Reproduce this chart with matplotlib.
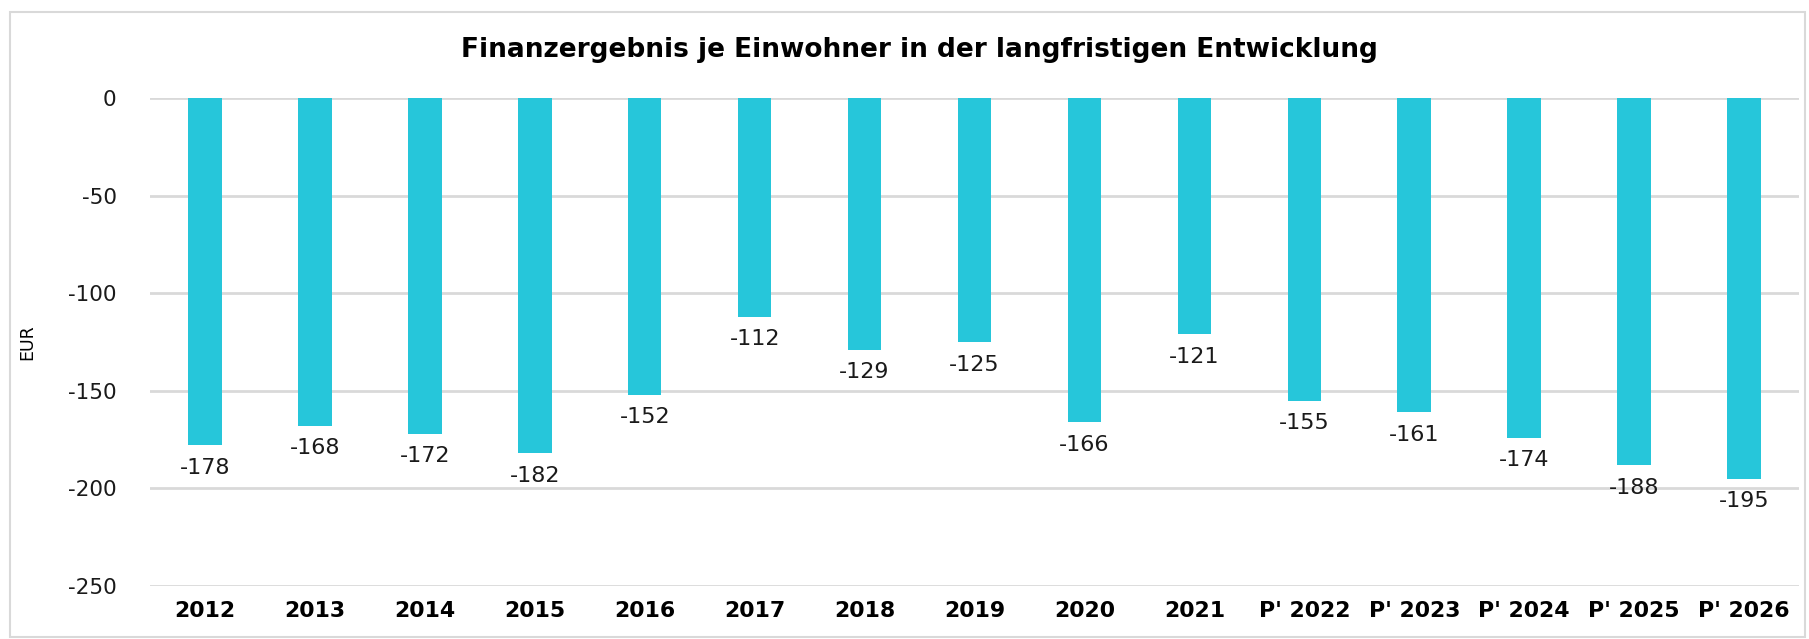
import matplotlib.pyplot as plt
from matplotlib.patches import Rectangle

years = ['2012', '2013', '2014', '2015', '2016', '2017', '2018', '2019', '2020',
         '2021', "P' 2022", "P' 2023", "P' 2024", "P' 2025", "P' 2026"]
values = [-178, -168, -172, -182, -152, -112, -129, -125, -166,
          -121, -155, -161, -174, -188, -195]
yticks = [0, -50, -100, -150, -200, -250]

plt.rcParams['font.family'] = ['Verdana', 'DejaVu Sans']

fig = plt.figure(figsize=(18.09, 6.39), dpi=100)
ax = fig.add_axes([0.0829, 0.0829, 0.9116, 0.7637])

x = range(len(years))
ax.bar(x, values, width=0.305, color='#26C6DA', zorder=3)

for xi, v in zip(x, values):
    ax.annotate(str(v), (xi, v), textcoords='offset points', xytext=(0, -9),
                ha='center', va='top', fontsize=16, color='#1a1a1a')

ax.set_xlim(-0.5, len(years) - 0.5)
ax.set_ylim(-250, 0)
ax.set_yticks(yticks)
ax.set_yticklabels([str(t) for t in yticks], fontsize=15.5, color='#1a1a1a')
ax.set_xticks(list(x))
ax.set_xticklabels(years, fontsize=15.8, fontweight='bold')
ax.tick_params(length=0, pad=11)
ax.tick_params(axis='y', pad=24)
ax.grid(axis='y', color='#d9d9d9', linewidth=2, zorder=0)
for s in ax.spines.values():
    s.set_visible(False)

ax.set_ylabel('EUR', fontsize=12.5)
ax.yaxis.set_label_coords(-0.069, 0.5)

fig.text(0.508, 0.922, 'Finanzergebnis je Einwohner in der langfristigen Entwicklung',
         ha='center', va='center', fontsize=19, fontweight='bold')

fig.patches.append(Rectangle((10 / 1809, 2 / 639), 1795 / 1809, 625 / 639,
                             transform=fig.transFigure, fill=False,
                             edgecolor='#d9d9d9', linewidth=1.5))

fig.savefig('out.png', dpi=100)
